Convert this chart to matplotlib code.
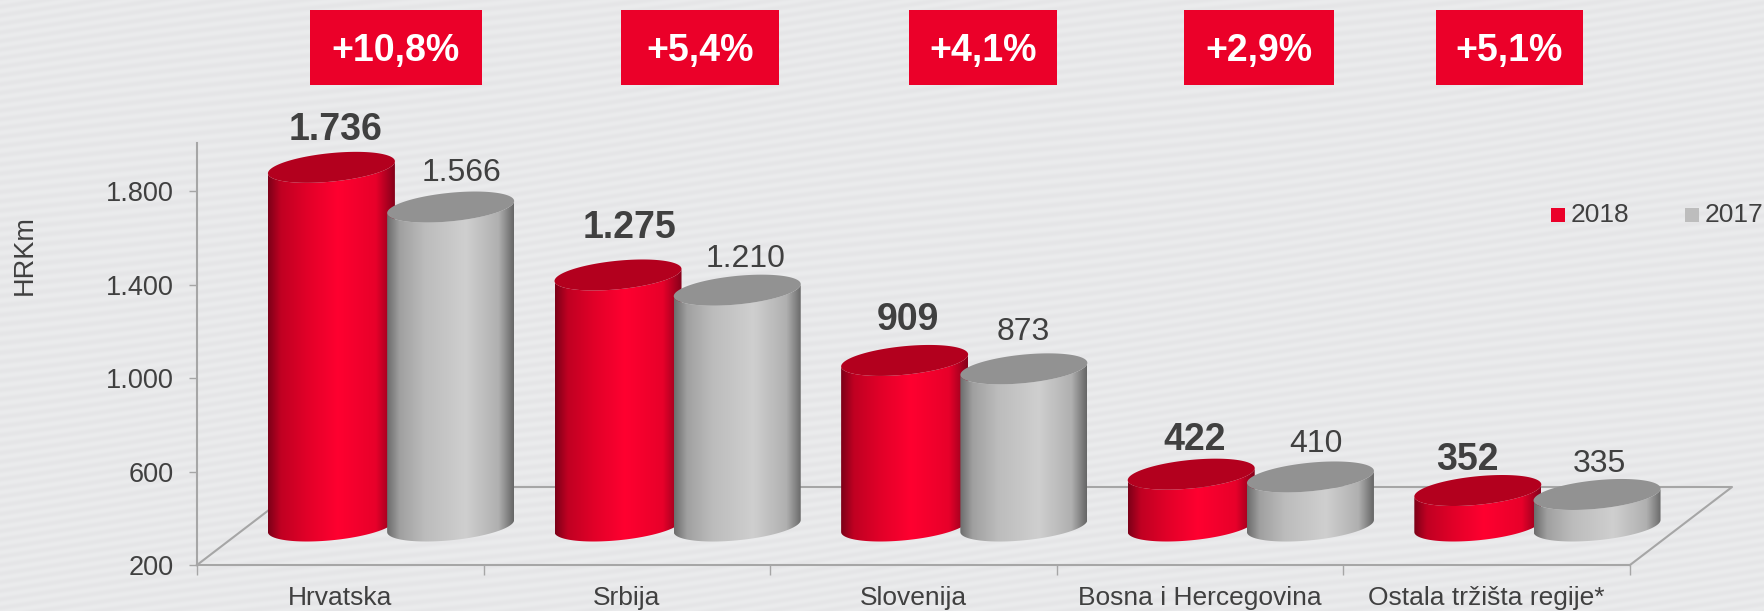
import numpy as np
import matplotlib
matplotlib.use("Agg")
import matplotlib.pyplot as plt
from matplotlib.colors import LinearSegmentedColormap
from matplotlib.patches import Polygon, Rectangle

W, H = 1765, 611

categories = ["Hrvatska", "Srbija", "Slovenija", "Bosna i Hercegovina", "Ostala tržišta regije*"]
values_2018 = [1736, 1275, 909, 422, 352]
values_2017 = [1566, 1210, 873, 410, 335]
labels_2018 = ["1.736", "1.275", "909", "422", "352"]
labels_2017 = ["1.566", "1.210", "873", "410", "335"]
growth = ["+10,8%", "+5,4%", "+4,1%", "+2,9%", "+5,1%"]
yticks = [200, 600, 1000, 1400, 1800]
ytick_labels = ["200", "600", "1.000", "1.400", "1.800"]

# hand placed label nudges in pixels, the labels in the slide were moved around
nudge_2018 = [(4, 3), (11, 13), (3, 6), (3, 0), (-10, -3)]
nudge_2017 = [(11, 3), (8, 0), (-1, 6), (5, 2), (2, -1)]

plt.rcParams["font.family"] = ["Liberation Sans", "DejaVu Sans"]
TXT = "#404040"
LINE = "#a6a6a6"
RED = "#eb0029"

fig = plt.figure(figsize=(W / 100, H / 100), dpi=100)

# wavy stripes of the slide background
bg = fig.add_axes([0, 0, 1, 1], zorder=0)
xx, yy = np.meshgrid(np.arange(W), np.arange(H))
tex = 232.5 + 3.0 * np.sin(2 * np.pi * (yy + 0.13 * xx + 5 * np.sin(xx / 140 + yy / 90)) / 9)
bg.imshow(np.dstack([tex - 0.5, tex, tex + 1.5]) / 255, aspect="auto", interpolation="bilinear")
bg.axis("off")

# axes: x 0..5 are the categories, y is the value scale, some room right for the 3D shift
left, right, bottom, top = 197, 1630, 565, 143
px_x = (right - left) / 5
px_y = 0.2335
ax = fig.add_axes([left / W, 1 - bottom / H, (W - left) / W, (bottom - top) / H], zorder=1)
ax.patch.set_alpha(0)
xmax = (W - left) / px_x
ymax = 200 + (bottom - top) / px_y

for s in ["top", "right"]:
    ax.spines[s].set_visible(False)
for s in ["left", "bottom"]:
    ax.spines[s].set_color(LINE)
    ax.spines[s].set_linewidth(1.5)
ax.spines["bottom"].set_bounds(0, 5)
ax.set_yticks(yticks, ytick_labels)
ax.set_xticks(range(6), [""] * 6)
ax.tick_params(axis="y", labelsize=19.5, colors=LINE, labelcolor=TXT, length=6, width=1, pad=11)
ax.tick_params(axis="x", colors=LINE, length=7, width=1)
for i, c in enumerate(categories):
    ax.text(i + 0.5, -0.05, c, transform=ax.get_xaxis_transform(), ha="center", va="top", fontsize=19, color=TXT)
fig.text(25 / W, 1 - 255 / H, "HRKm", rotation=90, ha="center", va="center", fontsize=19.5, color=TXT)

# floor of the 3D box
dx, dy = 102 / px_x, 78 / px_y
ax.plot([0, dx, 5 + dx, 5], [200, 200 + dy, 200 + dy, 200], color=LINE, lw=1.5, clip_on=False, zorder=1)

red = LinearSegmentedColormap.from_list("r", [(0, "#7c0018"), (0.1, "#c00022"), (0.3, "#e00028"),
                                              (0.55, "#ff0030"), (0.85, "#e8002a"), (1, "#85001a")])
grey = LinearSegmentedColormap.from_list("g", [(0, "#6c6c6c"), (0.1, "#a0a0a0"), (0.3, "#bcbcbc"),
                                               (0.62, "#cfcfcf"), (0.88, "#b0b0b0"), (1, "#666666")])
grad = np.linspace(0, 1, 256).reshape(1, -1)

half_w = 63.5 / px_x
tilt, round_ = 6 / px_y, 14.3 / px_y
base = 200 + 39 / px_y
t = np.linspace(0, 2 * np.pi, 121)


def cylinder(cx, value, cmap, top_col, order):
    y_top = base + (value - 200)
    ex = cx + half_w * np.cos(t)
    ex_y = tilt * np.cos(t) + round_ * np.sin(t)
    low = t[60:]
    body_x = np.r_[cx + half_w * np.cos(low), cx + half_w * np.cos(low[::-1])]
    body_y = np.r_[base + tilt * np.cos(low) + round_ * np.sin(low),
                   y_top + tilt * np.cos(low[::-1]) + round_ * np.sin(low[::-1])]
    im = ax.imshow(grad, cmap=cmap, aspect="auto", extent=[cx - half_w, cx + half_w, base - 3 * round_, y_top + 3 * round_],
                   zorder=order)
    im.set_clip_path(Polygon(np.c_[body_x, body_y], transform=ax.transData))
    ax.add_patch(Polygon(np.c_[ex, y_top + ex_y], fc=top_col, ec="none", zorder=order + 0.1))


for i in range(5):
    cylinder(i + 0.469, values_2018[i], red, "#b3001e", 2 + i)
    cylinder(i + 0.885, values_2017[i], grey, "#929292", 2.5 + i)
    nx, ny = nudge_2018[i]
    ax.text(i + 0.469 + nx / px_x, base + values_2018[i] - 200 + (16 + ny) / px_y, labels_2018[i], ha="center", va="bottom",
            fontsize=27, fontweight="bold", color=TXT, zorder=20)
    nx, ny = nudge_2017[i]
    ax.text(i + 0.885 + nx / px_x, base + values_2017[i] - 200 + (16 + ny) / px_y, labels_2017[i], ha="center", va="bottom",
            fontsize=23, color=TXT, zorder=20)

ax.set_xlim(0, xmax)
ax.set_ylim(200, ymax)

# growth boxes above the columns
box_x = [(310, 482), (621, 779), (909, 1057), (1184, 1334), (1436, 1583)]
for (x0, x1), g in zip(box_x, growth):
    fig.add_artist(Rectangle((x0 / W, 1 - 85 / H), (x1 - x0) / W, 75 / H, transform=fig.transFigure, fc=RED, ec="none"))
    fig.text((x0 + x1) / 2 / W, 1 - 51 / H, g, ha="center", va="center", fontsize=27, fontweight="bold", color="white")

# legend drawn by hand, sits outside the category range
for x, c, lab in [(1551, RED, "2018"), (1685, "#bdbdbd", "2017")]:
    fig.add_artist(Rectangle((x / W, 1 - 222 / H), 14 / W, 14 / H, transform=fig.transFigure, fc=c, ec="none"))
    fig.text((x + 20) / W, 1 - 215 / H, lab, ha="left", va="center", fontsize=19, color=TXT)

fig.savefig("out.png", dpi=100)
